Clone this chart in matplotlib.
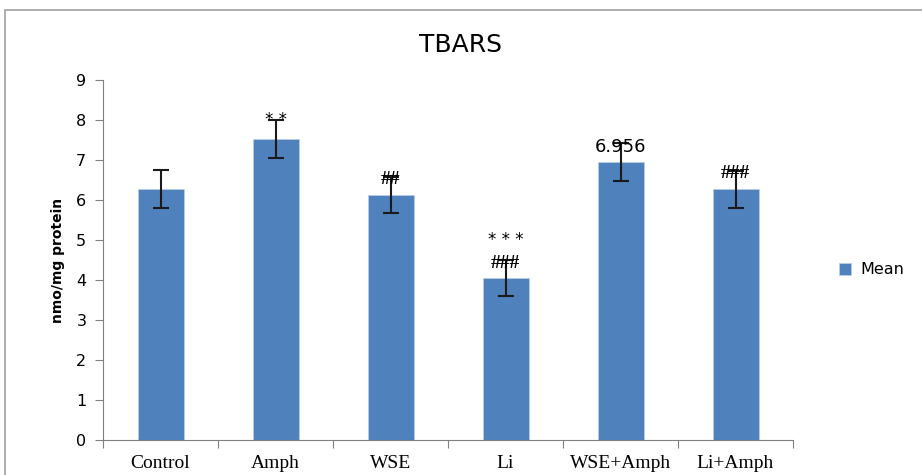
import matplotlib
matplotlib.use('Agg')
import matplotlib.pyplot as plt
from matplotlib.patches import Rectangle

# data
groups = ['Control', 'Amph', 'WSE', 'Li', 'WSE+Amph', 'Li+Amph']
means = [6.27, 7.52, 6.13, 4.05, 6.956, 6.27]
errs = [0.48, 0.48, 0.45, 0.45, 0.48, 0.46]
marks = ['', '**', '##', '###', '6.956', '###']
yticks = list(range(0, 10))

fig = plt.figure(figsize=(9.22, 4.75), dpi=100)
# outer gray frame
fig.patches.append(Rectangle((5/922, -0.05), 1.1, 1 - 10/475 + 0.05, transform=fig.transFigure,
                             fill=False, edgecolor='#a0a0a0', linewidth=1.2))

ax = fig.add_axes([103/922, 35/475, 690/922, 360/475])
x = list(range(len(groups)))
ax.bar(x, means, width=0.4, color='#4F81BD', edgecolor='#b8cce4', linewidth=0.6, label='Mean')
ax.errorbar(x, means, yerr=errs, fmt='none', ecolor='#1a1a1a', elinewidth=1.5, capsize=6, capthick=1.5)

# significance marks
for i, m in enumerate(marks):
    if not m:
        continue
    top = means[i] + errs[i]
    if m == '6.956':
        ax.text(i, top - 0.1, m, ha='center', va='center', fontsize=13, family='DejaVu Sans')
    elif m == '**':
        ax.text(i, top + 0.0, '* *', ha='center', va='center', fontsize=12, family='DejaVu Sans')
    else:
        ax.text(i, top - 0.08, m, ha='center', va='center', fontsize=14, family='Liberation Serif',
                fontweight='bold')
# extra *** above Li
ax.text(3, 5.0, '* * *', ha='center', va='center', fontsize=12, family='DejaVu Sans')

ax.set_xlim(-0.5, len(groups) - 0.5)
ax.set_ylim(0, 9)
ax.set_yticks(yticks)
ax.set_yticklabels([str(v) for v in yticks], fontsize=11.5, family='DejaVu Sans')
ax.set_xticks([i - 0.5 for i in range(len(groups) + 1)], minor=False)
ax.set_xticklabels([])
ax.set_xticks(x, minor=True)
ax.set_xticklabels(groups, minor=True, fontsize=14, family='Liberation Serif')
ax.tick_params(axis='x', which='minor', length=0, pad=11)
ax.tick_params(axis='x', which='major', length=6, color='#808080')
ax.tick_params(axis='y', length=6, color='#808080', pad=6)
for s in ['top', 'right']:
    ax.spines[s].set_visible(False)
ax.spines['left'].set_color('#808080')
ax.spines['bottom'].set_color('#808080')

ax.set_ylabel('nmo/mg protein', fontsize=10, fontweight='bold', family='DejaVu Sans', labelpad=8)
fig.text(460/922, 1 - 45/475, 'TBARS', ha='center', va='center', fontsize=18, family='DejaVu Sans')

fig.legend(loc='center left', bbox_to_anchor=(825/922, 1 - 270/475), frameon=False,
           fontsize=11.5, handlelength=0.7, handleheight=0.7, handletextpad=0.6)

fig.savefig('out.png', dpi=100)
